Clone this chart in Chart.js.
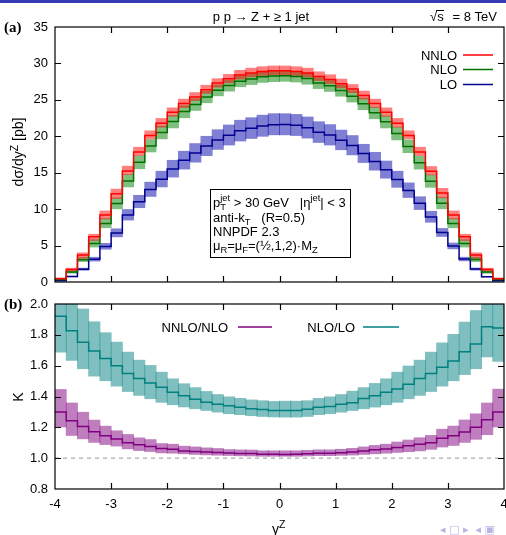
<!DOCTYPE html>
<html><head><meta charset="utf-8">
<script src="https://cdn.jsdelivr.net/npm/chart.js@4.4.1/dist/chart.umd.min.js"></script>
<style>
html,body{margin:0;padding:0;background:#fff;}
#wrap{position:relative;width:506px;height:535px;overflow:hidden;background:#fff;}
canvas{position:absolute;left:0;}
</style></head><body>
<div id="wrap">
<canvas id="topc" width="506" height="295" style="top:0"></canvas>
<canvas id="botc" width="506" height="240" style="top:295px"></canvas>
</div>
<script>
// ---------- data ----------
const edges = [-4.0,-3.8,-3.6,-3.4,-3.2,-3.0,-2.8,-2.6,-2.4,-2.2,-2.0,-1.8,-1.6,-1.4,-1.2,-1.0,-0.8,-0.6,-0.4,-0.2,0.0,0.2,0.4,0.6,0.8,1.0,1.2,1.4,1.6,1.8,2.0,2.2,2.4,2.6,2.8,3.0,3.2,3.4,3.6,3.8,4.0];

const nnlo   = [0.44,1.70,3.70,6.20,9.20,12.10,15.25,17.85,20.10,21.80,23.30,24.50,25.40,26.40,27.30,27.90,28.40,28.70,28.90,29.00,
                29.00,28.90,28.70,28.20,27.80,27.20,26.50,25.60,24.50,23.30,21.80,20.10,17.85,15.20,12.20,9.20,6.20,3.70,1.70,0.44];
const nnloHi = [0.62,1.95,4.05,6.60,9.80,12.80,15.95,18.55,20.80,22.50,23.95,25.15,26.05,27.05,27.95,28.55,29.10,29.40,29.60,29.70,
                29.70,29.60,29.40,28.90,28.50,27.90,27.15,26.25,25.15,23.95,22.50,20.80,18.55,15.90,12.90,9.80,6.60,4.05,1.95,0.62];
const nnloLo = [0.36,1.45,3.20,5.65,8.60,11.40,14.70,17.30,19.60,21.20,22.70,23.90,24.85,25.85,26.70,27.30,27.80,28.10,28.30,28.40,
                28.40,28.30,28.10,27.60,27.20,26.60,25.95,25.05,23.90,22.70,21.20,19.60,17.30,14.65,11.50,8.60,5.65,3.20,1.45,0.36];

const nlo    = [0.34,1.37,3.07,5.29,8.03,10.76,13.86,16.42,18.68,20.53,22.02,23.40,24.35,25.38,26.33,26.98,27.57,27.86,28.17,28.27,
                28.32,28.20,27.92,27.33,26.94,26.28,25.48,24.45,23.22,21.98,20.37,18.61,16.38,13.82,10.80,8.03,5.30,3.08,1.36,0.34];
const nloHi  = [0.45,1.60,3.45,5.85,8.75,11.60,14.80,17.35,19.60,21.45,22.90,24.25,25.20,26.20,27.10,27.75,28.35,28.65,28.95,29.05,
                29.10,28.95,28.70,28.10,27.70,27.05,26.30,25.30,24.05,22.85,21.30,19.55,17.30,14.75,11.65,8.75,5.85,3.45,1.60,0.45];
const nloLo  = [0.26,1.15,2.75,4.75,7.40,10.00,13.00,15.50,17.80,19.60,21.10,22.50,23.50,24.55,25.50,26.15,26.75,27.05,27.35,27.45,
                27.50,27.40,27.10,26.50,26.10,25.45,24.65,23.60,22.35,21.10,19.45,17.70,15.45,12.95,10.00,7.40,4.75,2.75,1.15,0.26];

const lo     = [0.18,0.75,1.75,3.12,4.88,6.72,9.20,11.00,12.70,14.10,15.50,16.70,17.70,18.65,19.50,20.15,20.75,21.10,21.40,21.60,
                21.62,21.53,21.18,20.55,20.18,19.47,18.74,17.63,16.53,15.40,14.07,12.57,10.80,8.92,6.79,4.93,3.14,1.77,0.73,0.18];
const loHi   = [0.22,0.85,1.95,3.45,5.35,7.35,10.00,11.95,13.75,15.25,16.75,18.00,19.05,20.05,20.95,21.60,22.25,22.60,22.95,23.15,
                23.15,23.05,22.70,22.05,21.65,20.90,20.15,18.95,17.85,16.65,15.25,13.65,11.75,9.75,7.40,5.40,3.45,1.97,0.83,0.22];
const loLo   = [0.15,0.66,1.57,2.82,4.45,6.15,8.45,10.15,11.70,13.00,14.35,15.45,16.40,17.30,18.15,18.75,19.30,19.65,19.95,20.15,
                20.15,20.05,19.70,19.10,18.75,18.10,17.40,16.35,15.30,14.20,12.95,11.55,9.90,8.15,6.20,4.50,2.85,1.58,0.64,0.15];

const kNNLO   = [1.300,1.242,1.206,1.171,1.145,1.125,1.100,1.087,1.076,1.062,1.058,1.047,1.043,1.040,1.037,1.034,1.030,1.030,1.026,1.026,
                 1.024,1.025,1.028,1.032,1.032,1.035,1.040,1.047,1.055,1.060,1.070,1.080,1.090,1.100,1.130,1.145,1.170,1.200,1.250,1.300];
const kNNLOHi = [1.448,1.360,1.300,1.249,1.210,1.180,1.156,1.134,1.123,1.097,1.093,1.080,1.075,1.069,1.065,1.058,1.056,1.055,1.050,1.050,
                 1.050,1.050,1.053,1.056,1.056,1.060,1.066,1.075,1.085,1.093,1.107,1.120,1.135,1.150,1.190,1.210,1.250,1.290,1.360,1.450];
const kNNLOLo = [1.200,1.145,1.123,1.100,1.086,1.076,1.058,1.047,1.041,1.032,1.030,1.026,1.022,1.019,1.017,1.015,1.013,1.012,1.010,1.010,
                 1.010,1.010,1.012,1.014,1.014,1.016,1.018,1.022,1.026,1.030,1.035,1.040,1.045,1.055,1.070,1.080,1.100,1.120,1.150,1.200];

const kNLO    = [1.920,1.827,1.752,1.695,1.647,1.600,1.550,1.517,1.488,1.460,1.428,1.405,1.382,1.363,1.350,1.340,1.330,1.320,1.316,1.310,
                 1.310,1.310,1.318,1.330,1.335,1.350,1.360,1.387,1.405,1.427,1.448,1.480,1.517,1.550,1.590,1.630,1.690,1.740,1.853,1.844];
const kNLOHi  = [2.170,2.030,1.970,1.887,1.816,1.755,1.690,1.638,1.604,1.560,1.517,1.485,1.460,1.435,1.415,1.400,1.390,1.380,1.375,1.370,
                 1.372,1.372,1.375,1.390,1.400,1.415,1.437,1.460,1.487,1.517,1.560,1.600,1.638,1.690,1.750,1.805,1.885,1.960,2.100,2.100];
const kNLOLo  = [1.686,1.632,1.578,1.530,1.500,1.465,1.430,1.405,1.383,1.360,1.344,1.330,1.318,1.307,1.296,1.286,1.280,1.273,1.268,1.265,
                 1.264,1.264,1.268,1.280,1.286,1.296,1.307,1.318,1.329,1.344,1.360,1.383,1.405,1.430,1.465,1.500,1.540,1.578,1.654,1.625];

const kRef = 1.0;
const xTicks = [-4,-3,-2,-1,0,1,2,3,4];
const yTicksTop = [0,5,10,15,20,25,30,35];
const yTicksBot = [0.8,1.0,1.2,1.4,1.6,1.8,2.0];

// ---------- helpers ----------
const FAM = "'Liberation Sans', Arial, Helvetica, sans-serif";
Chart.defaults.font.family = FAM;
Chart.defaults.font.size = 13;
Chart.defaults.color = '#000';

const centers = edges.slice(0, -1).map((e, i) => (e + edges[i + 1]) / 2);
function stepPts(vals) {
  const p = vals.map((v, i) => ({x: edges[i], y: v}));
  p.push({x: edges[edges.length - 1], y: vals[vals.length - 1]});
  return p;
}
function boxPts(l, h) { return centers.map((c, i) => ({x: c, y: [l[i], h[i]]})); }
function lineDs(vals, color) {
  return {type: 'line', data: stepPts(vals), borderColor: color, borderWidth: 1.5, pointRadius: 0,
          stepped: 'before', fill: false, clip: 0};
}
function bandDs(l, h, color) {
  return {type: 'bar', data: boxPts(l, h), backgroundColor: color, borderWidth: 0, grouped: false,
          barPercentage: 1.08, categoryPercentage: 1, clip: 0};
}

function rich(ctx, x, y, segs, size) {
  for (const s of segs) {
    ctx.font = (size * (s.s || 1)) + 'px ' + FAM;
    ctx.fillText(s.t, x, y + (s.dy || 0));
    if (!s.stay) x += ctx.measureText(s.t).width;
  }
  return x;
}
function richW(ctx, segs, size) {
  let w = 0;
  for (const s of segs) { ctx.font = (size * (s.s || 1)) + 'px ' + FAM; if (!s.stay) w += ctx.measureText(s.t).width; }
  return w;
}

function frameAndTicks(chart, len) {
  const {ctx, chartArea: a, scales: {x, y}} = chart;
  ctx.save();
  ctx.strokeStyle = '#000'; ctx.lineWidth = 1.2;
  ctx.strokeRect(a.left, a.top, a.right - a.left, a.bottom - a.top);
  ctx.beginPath();
  x.ticks.forEach(t => {
    const px = Math.round(x.getPixelForValue(t.value)) + 0.5;
    if (px <= a.left + 1 || px >= a.right - 1) return;
    ctx.moveTo(px, a.bottom); ctx.lineTo(px, a.bottom - len);
    ctx.moveTo(px, a.top); ctx.lineTo(px, a.top + len);
  });
  y.ticks.forEach(t => {
    const py = Math.round(y.getPixelForValue(t.value)) + 0.5;
    if (py <= a.top + 1 || py >= a.bottom - 1) return;
    ctx.moveTo(a.left, py); ctx.lineTo(a.left + len, py);
    ctx.moveTo(a.right, py); ctx.lineTo(a.right - len, py);
  });
  ctx.stroke();
  ctx.restore();
}

const fixY = w => s => { s.width = w; s.paddingTop = 0; s.paddingBottom = 0; };
const fixX = h => s => { s.height = h; s.paddingLeft = 0; s.paddingRight = 0; };

// ---------- top panel ----------
const topDecor = {
  id: 'topDecor',
  afterDraw(chart) {
    frameAndTicks(chart, 6);
    const ctx = chart.ctx;
    ctx.save();
    ctx.fillStyle = '#3a3ab4'; ctx.fillRect(0, 0, 506, 3);
    ctx.fillStyle = '#000'; ctx.textBaseline = 'alphabetic';
    ctx.font = '13px ' + FAM; ctx.textAlign = 'center';
    ctx.fillText('p p \u2192 Z + \u2265 1 jet', 261, 21);
    ctx.textAlign = 'left';
    ctx.fillText('\u221A', 430, 21);
    const sx = 430 + ctx.measureText('\u221A').width;
    ctx.fillText('s', sx, 21);
    ctx.lineWidth = 1; ctx.beginPath(); ctx.moveTo(sx - 1, 10.5); ctx.lineTo(sx + ctx.measureText('s').width + 0.5, 10.5); ctx.stroke();
    ctx.textAlign = 'right'; ctx.fillText('= 8 TeV', 497, 21);
    ctx.textAlign = 'left'; ctx.font = 'bold 15px "Liberation Serif", "Times New Roman", serif';
    ctx.fillText('(a)', 4, 32);
    const leg = [['NNLO', '#ff0000', 55], ['NLO', '#007000', 69.5], ['LO', '#000090', 84.5]];
    ctx.font = '13px ' + FAM; ctx.textAlign = 'right';
    leg.forEach(([t, c, yy]) => {
      ctx.fillStyle = '#000'; ctx.fillText(t, 457, yy + 4.7);
      ctx.strokeStyle = c; ctx.lineWidth = 1.5; ctx.beginPath(); ctx.moveTo(463, yy); ctx.lineTo(493, yy); ctx.stroke();
    });
    ctx.fillStyle = '#fff'; ctx.fillRect(211, 190, 139, 67);
    ctx.strokeStyle = '#000'; ctx.lineWidth = 1; ctx.strokeRect(210.5, 189.5, 140, 68);
    ctx.fillStyle = '#000'; ctx.textAlign = 'left';
    const sub = 0.72, F = 13;
    rich(ctx, 213, 206.5, [{t: 'p'}, {t: 'T', s: sub, dy: 3.5, stay: true}, {t: 'jet', s: sub, dy: -5.5},
      {t: ' > 30 GeV   |\u03B7'}, {t: 'jet', s: sub, dy: -5.5}, {t: '| < 3'}], F);
    rich(ctx, 213, 221.5, [{t: 'anti-k'}, {t: 'T', s: sub, dy: 3.5}, {t: '   (R=0.5)'}], F);
    rich(ctx, 213, 236, [{t: 'NNPDF 2.3'}], F);
    rich(ctx, 213, 249.5, [{t: '\u03BC'}, {t: 'R', s: sub, dy: 3.5}, {t: '=\u03BC'}, {t: 'F', s: sub, dy: 3.5},
      {t: '=(\u00BD,1,2)\u00B7M'}, {t: 'Z', s: sub, dy: 3.5}], F);
    ctx.translate(23, 152); ctx.rotate(-Math.PI / 2);
    const ysegs = [{t: 'd\u03C3/dy'}, {t: 'Z', s: 0.75, dy: -5.5}, {t: ' [pb]'}];
    const w = richW(ctx, ysegs, 14);
    rich(ctx, -w / 2, 0, ysegs, 14);
    ctx.restore();
  }
};

new Chart(document.getElementById('topc'), {
  type: 'bar',
  data: {
    datasets: [
      lineDs(nnlo, '#ff0000'),
      lineDs(nlo, '#007000'),
      lineDs(lo, '#000090'),
      bandDs(nnloLo, nnloHi, 'rgba(255,0,0,0.5)'),
      bandDs(nloLo, nloHi, 'rgba(0,128,0,0.5)'),
      bandDs(loLo, loHi, 'rgba(0,0,170,0.5)')
    ]
  },
  options: {
    responsive: false, animation: false, devicePixelRatio: 1,
    layout: {padding: {top: 27, right: 2, left: 0, bottom: 13}},
    plugins: {legend: {display: false}, tooltip: {enabled: false}},
    scales: {
      x: {type: 'linear', min: -4, max: 4, offset: false, grid: {display: false, drawTicks: false}, border: {display: false},
          ticks: {display: false}, afterBuildTicks: s => { s.ticks = xTicks.map(v => ({value: v})); }, afterFit: fixX(0)},
      y: {type: 'linear', min: 0, max: 35, grid: {display: false, drawTicks: false}, border: {display: false},
          ticks: {padding: 7, font: {size: 13}}, afterBuildTicks: s => { s.ticks = yTicksTop.map(v => ({value: v})); },
          afterFit: fixY(55)}
    }
  },
  plugins: [topDecor]
});

// ---------- bottom panel ----------
const botDecor = {
  id: 'botDecor',
  afterDraw(chart) {
    frameAndTicks(chart, 6);
    const ctx = chart.ctx;
    ctx.save();
    ctx.fillStyle = '#000'; ctx.textBaseline = 'alphabetic';
    ctx.font = 'bold 15px "Liberation Serif", "Times New Roman", serif'; ctx.textAlign = 'left';
    ctx.fillText('(b)', 4, 14);
    ctx.font = '13px ' + FAM; ctx.textAlign = 'right';
    ctx.fillText('NNLO/NLO', 228, 36.5);
    ctx.fillText('NLO/LO', 355, 36.5);
    ctx.lineWidth = 1.5;
    ctx.strokeStyle = '#800080'; ctx.beginPath(); ctx.moveTo(238, 32); ctx.lineTo(272, 32); ctx.stroke();
    ctx.strokeStyle = '#008080'; ctx.beginPath(); ctx.moveTo(363, 32); ctx.lineTo(399, 32); ctx.stroke();
    ctx.textAlign = 'left';
    rich(ctx, 272, 239, [{t: 'y'}, {t: 'Z', s: 0.75, dy: -6}], 14);
    ctx.fillStyle = 'rgba(150,150,215,0.7)'; ctx.font = '11px "DejaVu Sans", sans-serif';
    ctx.fillText('\u25C2 \u25A1 \u25B8  \u25C2 \u25A3', 440, 238);
    ctx.fillStyle = '#000';
    ctx.translate(23, 102); ctx.rotate(-Math.PI / 2);
    ctx.font = '14px ' + FAM; ctx.textAlign = 'center';
    ctx.fillText('K', 0, 0);
    ctx.restore();
  }
};

new Chart(document.getElementById('botc'), {
  type: 'bar',
  data: {
    datasets: [
      {type: 'line', data: [{x: edges[0], y: kRef}, {x: edges[edges.length - 1], y: kRef}], borderColor: '#aaaaaa',
       borderWidth: 1.2, borderDash: [4, 4], pointRadius: 0, fill: false, clip: 0},
      lineDs(kNNLO, '#800080'),
      lineDs(kNLO, '#008080'),
      bandDs(kNNLOLo, kNNLOHi, 'rgba(128,0,128,0.5)'),
      bandDs(kNLOLo, kNLOHi, 'rgba(0,128,128,0.5)')
    ]
  },
  options: {
    responsive: false, animation: false, devicePixelRatio: 1,
    layout: {padding: {top: 9, right: 2, left: 0, bottom: 0}},
    plugins: {legend: {display: false}, tooltip: {enabled: false}},
    scales: {
      x: {type: 'linear', min: -4, max: 4, offset: false, grid: {display: false, drawTicks: false}, border: {display: false},
          ticks: {padding: 8, font: {size: 13}, maxRotation: 0, autoSkip: false},
          afterBuildTicks: s => { s.ticks = xTicks.map(v => ({value: v})); }, afterFit: fixX(46)},
      y: {type: 'linear', min: 0.8, max: 2.0, grid: {display: false, drawTicks: false}, border: {display: false},
          ticks: {padding: 7, font: {size: 13}, callback: v => v.toFixed(1)},
          afterBuildTicks: s => { s.ticks = yTicksBot.map(v => ({value: v})); }, afterFit: fixY(55)}
    }
  },
  plugins: [botDecor]
});
</script>
</body></html>
